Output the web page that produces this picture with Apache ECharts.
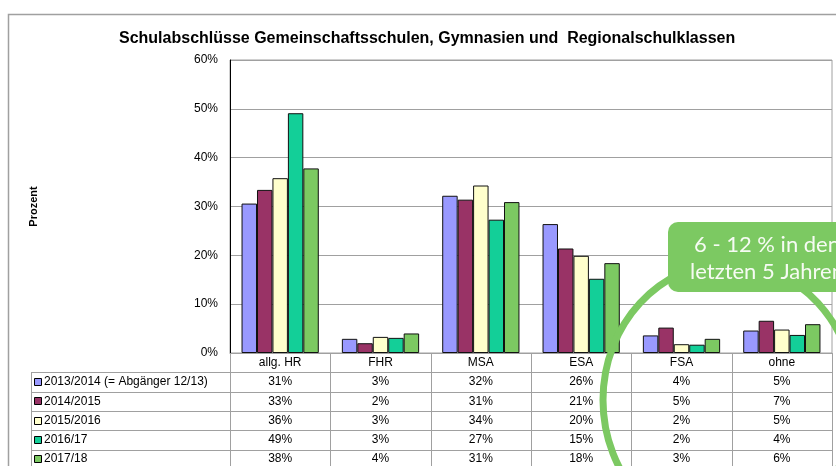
<!DOCTYPE html>
<html>
<head>
<meta charset="utf-8">
<script src="https://cdn.jsdelivr.net/npm/echarts@6/dist/echarts.min.js"></script>
<style>
  html, body { margin: 0; padding: 0; background: #fff; }
  #chart { width: 836px; height: 466px; }
</style>
</head>
<body>
<div id="chart"></div>
<script>
// categories and years
const categories = ['allg. HR', 'FHR', 'MSA', 'ESA', 'FSA', 'ohne'];
const seriesNames = ['2013/2014 (= Abgänger 12/13)', '2014/2015', '2015/2016', '2016/17', '2017/18'];
const colors = ['#9999FF', '#993366', '#FFFFCC', '#13CF98', '#7CC962'];

// values in percent
const y2013 = [30.6, 2.9, 32.2, 26.4, 3.6, 4.6];
const y2014 = [33.4, 2.0, 31.4, 21.4, 5.2, 6.6];
const y2015 = [35.8, 3.3, 34.3, 19.9, 1.8, 4.8];
const y2016 = [49.1, 3.1, 27.3, 15.2, 1.7, 3.7];
const y2017 = [37.8, 4.0, 30.9, 18.4, 2.9, 5.9];
const allValues = [y2013, y2014, y2015, y2016, y2017];

const yMin = 0, yMax = 60, yStep = 10;
const calloutLines = ['6 - 12 % in den', 'letzten 5 Jahren'];

const FONT = 'Liberation Sans, Arial, sans-serif';
const GRAY = '#a0a0a0';

const chart = echarts.init(document.getElementById('chart'));

chart.setOption({
    animation: false,
    title: {
        text: 'Schulabschlüsse Gemeinschaftsschulen, Gymnasien und  Regionalschulklassen',
        left: 114,
        top: 26,
        textStyle: {fontFamily: FONT, fontSize: 16, fontWeight: 'bold', color: '#000'}
    },
    grid: {
        left: 230, right: 4, top: 60, bottom: 113,
        show: true, borderColor: GRAY, borderWidth: 1
    },
    xAxis: {
        type: 'category',
        data: categories,
        axisLine: {lineStyle: {color: GRAY}},
        axisTick: {show: false},
        axisLabel: {fontFamily: FONT, fontSize: 12, color: '#000', margin: 4}
    },
    yAxis: {
        type: 'value',
        min: yMin, max: yMax, interval: yStep,
        name: 'Prozent',
        nameLocation: 'middle',
        nameRotate: 90,
        nameGap: 191,
        nameTextStyle: {fontFamily: FONT, fontSize: 11, fontWeight: 'bold', color: '#000'},
        axisLine: {show: true, lineStyle: {color: '#000'}},
        axisTick: {show: false},
        axisLabel: {formatter: '{value}%', fontFamily: FONT, fontSize: 12, color: '#000', margin: 12},
        splitLine: {lineStyle: {color: GRAY}}
    },
    series: seriesNames.map((name, i) => ({
        name: name,
        type: 'bar',
        data: allValues[i],
        barGap: '0%',
        barCategoryGap: '23%',
        itemStyle: {color: colors[i], borderColor: '#111', borderWidth: 1}
    }))
});

// table under the plot, placed from the axis scales
const centers = categories.map(c => chart.convertToPixel({xAxisIndex: 0}, c));
const catW = centers[1] - centers[0];
const baseY = chart.convertToPixel({yAxisIndex: 0}, 0);
const rowH = 19.3;
const tableLeft = 31;
const tableRight = centers[centers.length - 1] + catW / 2;
const bottomY = 470;

const g = [];
// outer chart frame
g.push({type: 'rect', z: 0, shape: {x: 8.5, y: 14.5, width: 900, height: 600},
    style: {fill: 'none', stroke: GRAY, lineWidth: 1.5}});

// horizontal row lines
for (let k = 1; k <= seriesNames.length; k++) {
    const y = Math.round(baseY + k * rowH) + 0.5;
    g.push({type: 'line', shape: {x1: tableLeft, y1: y, x2: tableRight, y2: y},
        style: {stroke: GRAY, lineWidth: 1}});
}
// vertical lines
g.push({type: 'line', shape: {x1: tableLeft + 0.5, y1: Math.round(baseY + rowH), x2: tableLeft + 0.5, y2: bottomY},
    style: {stroke: GRAY, lineWidth: 1}});
for (let i = 0; i <= categories.length; i++) {
    const x = Math.round(centers[0] - catW / 2 + i * catW) + 0.5;
    g.push({type: 'line', shape: {x1: x, y1: baseY, x2: x, y2: bottomY},
        style: {stroke: GRAY, lineWidth: 1}});
}
// legend keys + row names + values
seriesNames.forEach((name, k) => {
    const cy = baseY + (k + 1.5) * rowH;
    g.push({type: 'rect', shape: {x: 34.5, y: Math.round(cy) - 3.5, width: 7, height: 7},
        style: {fill: colors[k], stroke: '#000', lineWidth: 1}});
    g.push({type: 'text', x: 44, y: cy, style: {text: name, font: '12px ' + FONT, fill: '#000',
        textAlign: 'left', textVerticalAlign: 'middle'}});
    allValues[k].forEach((v, i) => {
        g.push({type: 'text', x: centers[i], y: cy, style: {text: Math.round(v) + '%', font: '12px ' + FONT,
            fill: '#000', textAlign: 'center', textVerticalAlign: 'middle'}});
    });
});

// green highlight ellipse and callout
g.push({type: 'ellipse', z: 50, shape: {cx: 729, cy: 400, rx: 126, ry: 137},
    style: {fill: 'none', stroke: '#7CC962', lineWidth: 7}});
g.push({type: 'rect', z: 60, shape: {x: 668, y: 222, width: 200, height: 70, r: 10},
    style: {fill: '#7CC962'}});
calloutLines.forEach((t, j) => {
    g.push({type: 'text', z: 61, x: 767, y: 245 + j * 27, style: {text: t, font: '22px Lato, sans-serif',
        fill: '#f6fbf3', textAlign: 'center', textVerticalAlign: 'middle'}});
});

chart.setOption({graphic: g});
</script>
</body>
</html>
